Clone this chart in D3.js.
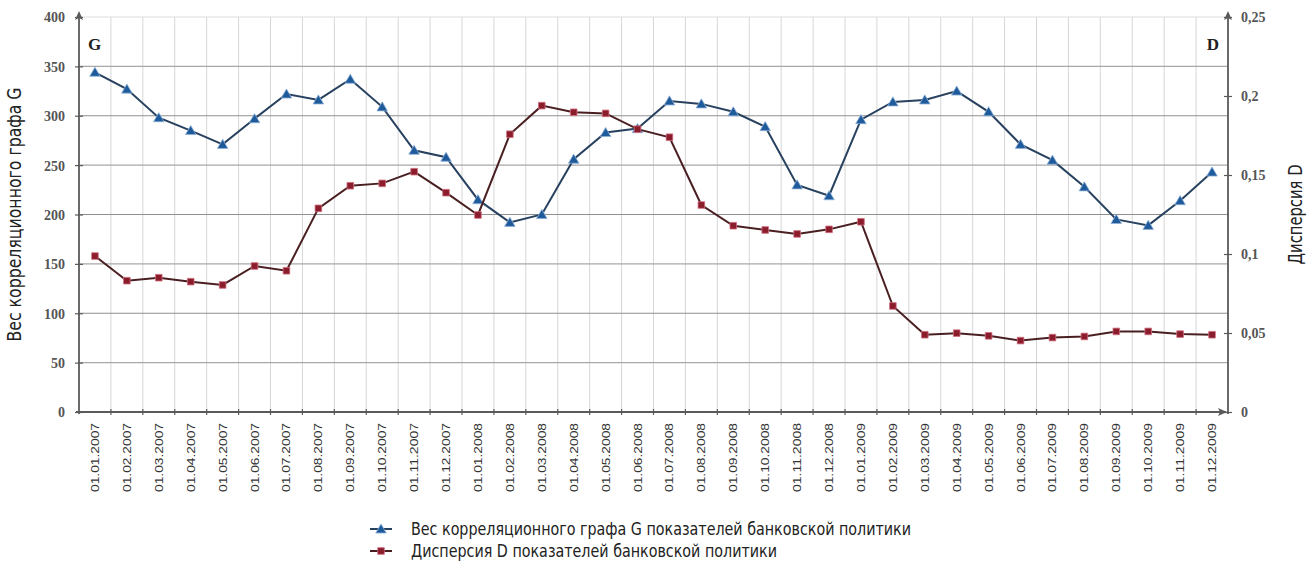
<!DOCTYPE html>
<html>
<head>
<meta charset="utf-8">
<script src="https://cdn.jsdelivr.net/npm/d3@7"></script>
<style>
  html, body { margin: 0; padding: 0; background: #fff; }
  svg { display: block; }
</style>
</head>
<body>
<svg id="chart" width="1309" height="565"></svg>
<script>
// Monthly observation dates
const dates = [
  "01.01.2007","01.02.2007","01.03.2007","01.04.2007","01.05.2007","01.06.2007",
  "01.07.2007","01.08.2007","01.09.2007","01.10.2007","01.11.2007","01.12.2007",
  "01.01.2008","01.02.2008","01.03.2008","01.04.2008","01.05.2008","01.06.2008",
  "01.07.2008","01.08.2008","01.09.2008","01.10.2008","01.11.2008","01.12.2008",
  "01.01.2009","01.02.2009","01.03.2009","01.04.2009","01.05.2009","01.06.2009",
  "01.07.2009","01.08.2009","01.09.2009","01.10.2009","01.11.2009","01.12.2009"
];

// Weight of the correlation graph G (left axis)
const weightG = [
  344, 327, 298, 285, 271, 297, 322, 316, 337, 309, 265, 258,
  215, 192, 200, 256, 283, 287, 315, 312, 304, 289, 230, 219,
  296, 314, 316, 325, 304, 271, 255, 228, 195, 189, 214, 243
];

// Dispersion D (right axis)
const dispersionD = [
  0.0987, 0.0831, 0.0850, 0.0825, 0.0804, 0.0924, 0.0894, 0.1289, 0.1432, 0.1447, 0.1521, 0.1388,
  0.1247, 0.1758, 0.1939, 0.1897, 0.1890, 0.1790, 0.1739, 0.1310, 0.1179, 0.1152, 0.1127, 0.1156,
  0.1204, 0.0671, 0.0489, 0.0499, 0.0482, 0.0452, 0.0471, 0.0478, 0.0510, 0.0510, 0.0493, 0.0489
];

const leftTicks = [0, 50, 100, 150, 200, 250, 300, 350, 400];
const rightTicks = [0, 0.05, 0.1, 0.15, 0.2, 0.25];
const rightTickLabels = ["0", "0,05", "0,1", "0,15", "0,2", "0,25"];

const leftTitle = "Вес корреляционного графа G";
const rightTitle = "Дисперсия D";
const legendG = "Вес корреляционного графа G показателей банковской политики";
const legendD = "Дисперсия D показателей банковской политики";

const svg = d3.select("#chart");

const plot = { left: 79, right: 1228, top: 17, bottom: 412 };

const x = d3.scaleBand().domain(dates).range([plot.left, plot.right]).padding(0);
const yL = d3.scaleLinear().domain([0, 400]).range([plot.bottom, plot.top]);
const yR = d3.scaleLinear().domain([0, 0.25]).range([plot.bottom, plot.top]);

const axisColor = "#5a5a5a";
const narrow = "'Liberation Sans Narrow', 'DejaVu Sans Condensed', 'Liberation Sans', sans-serif";
const serif = "'Liberation Serif', 'DejaVu Serif', serif";

// Vertical grid at category boundaries
const boundaries = d3.range(1, dates.length).map(i => x(dates[i]));
svg.append("g").selectAll("line").data(boundaries).join("line")
  .attr("x1", d => d).attr("x2", d => d)
  .attr("y1", plot.top).attr("y2", plot.bottom)
  .attr("stroke", "#d6d6d6").attr("stroke-width", 1);

// Horizontal grid on the left-axis ticks
svg.append("g").selectAll("line").data(leftTicks.filter(d => d > 0)).join("line")
  .attr("x1", plot.left).attr("x2", plot.right)
  .attr("y1", d => yL(d)).attr("y2", d => yL(d))
  .attr("stroke", d => d === 400 ? "#dddddd" : (d % 100 === 0 ? "#8f8f8f" : "#a8a8a8"))
  .attr("stroke-width", d => d === 400 ? 1 : 1.2);

// Left axis
const gL = svg.append("g").attr("transform", `translate(${plot.left},0)`)
  .call(d3.axisLeft(yL).tickValues(leftTicks).tickSize(4).tickPadding(10).tickFormat(d3.format("d")));
gL.select(".domain").remove();
gL.selectAll(".tick line").attr("x2", 4).attr("x1", -4).attr("stroke", axisColor).attr("stroke-width", 1.2);
gL.selectAll(".tick text")
  .attr("font-family", serif).attr("font-size", 14).attr("font-weight", "bold")
  .attr("fill", "#555").attr("dy", "0.35em");

// Right axis
const gR = svg.append("g").attr("transform", `translate(${plot.right},0)`)
  .call(d3.axisRight(yR).tickValues(rightTicks).tickSize(4).tickPadding(9)
    .tickFormat((d, i) => rightTickLabels[i]));
gR.select(".domain").remove();
gR.selectAll(".tick line").attr("x1", -4).attr("x2", 4).attr("stroke", axisColor).attr("stroke-width", 1.2);
gR.selectAll(".tick text")
  .attr("font-family", serif).attr("font-size", 14).attr("font-weight", "bold")
  .attr("fill", "#555").attr("dy", "0.35em");

// Bottom axis with rotated date labels
const gB = svg.append("g").attr("transform", `translate(0,${plot.bottom})`)
  .call(d3.axisBottom(x).tickSize(0).tickPadding(0));
gB.select(".domain").remove();
gB.selectAll(".tick text")
  .attr("transform", "rotate(-90)")
  .attr("text-anchor", "end")
  .attr("x", -11).attr("y", 0).attr("dy", "0.36em")
  .attr("font-family", "'Liberation Sans', Arial, sans-serif")
  .attr("font-size", 11).attr("fill", "#333")
  .attr("textLength", 69).attr("lengthAdjust", "spacingAndGlyphs");

// Category tick marks crossing the x axis
svg.append("g").selectAll("line").data(boundaries).join("line")
  .attr("x1", d => d).attr("x2", d => d)
  .attr("y1", plot.bottom - 3).attr("y2", plot.bottom + 3)
  .attr("stroke", axisColor).attr("stroke-width", 1.2);

// Axis lines with arrowheads
const axes = svg.append("g").attr("stroke", axisColor).attr("stroke-width", 1.8).attr("fill", "none");
axes.append("line").attr("x1", plot.left).attr("x2", plot.left).attr("y1", plot.bottom + 2).attr("y2", plot.top - 3);
axes.append("line").attr("x1", plot.right).attr("x2", plot.right).attr("y1", plot.bottom + 2).attr("y2", plot.top - 3);
axes.append("line").attr("x1", plot.left - 3).attr("x2", plot.right - 2).attr("y1", plot.bottom).attr("y2", plot.bottom);
const arrows = svg.append("g").attr("fill", axisColor);
arrows.append("path").attr("d", `M${plot.left},${plot.top - 6} l-4,9 l4,-2 l4,2 z`);
arrows.append("path").attr("d", `M${plot.right},${plot.top - 6} l-4,9 l4,-2 l4,2 z`);
arrows.append("path").attr("d", `M${plot.right - 1},${plot.bottom} l-9,-4 l2,4 l-2,4 z`);

// Axis corner letters
svg.append("text").attr("x", plot.left + 9).attr("y", 50)
  .attr("font-family", serif).attr("font-weight", "bold").attr("font-size", 17)
  .attr("fill", "#222").text("G");
svg.append("text").attr("x", plot.right - 9).attr("y", 50).attr("text-anchor", "end")
  .attr("font-family", serif).attr("font-weight", "bold").attr("font-size", 17)
  .attr("fill", "#222").text("D");

// Axis titles
svg.append("text")
  .attr("transform", `translate(21,${(plot.top + plot.bottom) / 2}) rotate(-90)`)
  .attr("text-anchor", "middle")
  .attr("font-family", narrow).attr("font-size", 19).attr("fill", "#222")
  .attr("textLength", 254).attr("lengthAdjust", "spacingAndGlyphs")
  .text(leftTitle);
svg.append("text")
  .attr("transform", `translate(1302,${(plot.top + plot.bottom) / 2}) rotate(-90)`)
  .attr("text-anchor", "middle")
  .attr("font-family", narrow).attr("font-size", 19).attr("fill", "#222")
  .attr("textLength", 100).attr("lengthAdjust", "spacingAndGlyphs")
  .text(rightTitle);

// Series styling
const gStyle = { line: "#27415f", fill: "#1f5a9a", stroke: "#8fb3d9" };
const dStyle = { line: "#4a1f22", fill: "#8a1c2c", stroke: "#d07080" };

const triangle = d3.symbol().type(d3.symbolTriangle).size(48);
const square = d3.symbol().type(d3.symbolSquare).size(44);

const cx = d => x(d) + x.bandwidth() / 2;

// Series G
svg.append("path")
  .datum(dates.map((d, i) => [cx(d), yL(weightG[i])]))
  .attr("d", d3.line())
  .attr("fill", "none").attr("stroke", gStyle.line).attr("stroke-width", 2);
svg.append("g").selectAll("path").data(dates).join("path")
  .attr("d", triangle)
  .attr("transform", (d, i) => `translate(${cx(d)},${yL(weightG[i]) + 1})`)
  .attr("fill", gStyle.fill).attr("stroke", gStyle.stroke).attr("stroke-width", 0.8);

// Series D
svg.append("path")
  .datum(dates.map((d, i) => [cx(d), yR(dispersionD[i])]))
  .attr("d", d3.line())
  .attr("fill", "none").attr("stroke", dStyle.line).attr("stroke-width", 2);
svg.append("g").selectAll("path").data(dates).join("path")
  .attr("d", square)
  .attr("transform", (d, i) => `translate(${cx(d)},${yR(dispersionD[i])})`)
  .attr("fill", dStyle.fill).attr("stroke", dStyle.stroke).attr("stroke-width", 0.8);

// Legend
const legend = svg.append("g");
const items = [
  { label: legendG, style: gStyle, sym: triangle, y: 529, len: 500 },
  { label: legendD, style: dStyle, sym: square, y: 551, len: 366 }
];
items.forEach(it => {
  legend.append("line").attr("x1", 370).attr("x2", 392).attr("y1", it.y).attr("y2", it.y)
    .attr("stroke", it.style.line).attr("stroke-width", 2);
  legend.append("path").attr("d", it.sym)
    .attr("transform", `translate(381,${it.y + (it.sym === triangle ? 1 : 0)})`)
    .attr("fill", it.style.fill).attr("stroke", it.style.stroke).attr("stroke-width", 0.8);
  legend.append("text").attr("x", 411).attr("y", it.y).attr("dy", "0.35em")
    .attr("font-family", narrow).attr("font-size", 18).attr("fill", "#222")
    .attr("textLength", it.len).attr("lengthAdjust", "spacingAndGlyphs")
    .text(it.label);
});
</script>
</body>
</html>
